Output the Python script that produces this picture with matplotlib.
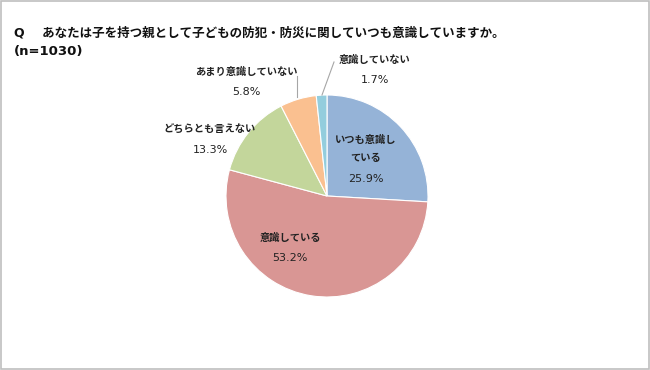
import matplotlib
matplotlib.use('Agg')
import matplotlib.pyplot as plt
from matplotlib.patches import Rectangle

plt.rcParams['font.family'] = ['Noto Sans CJK JP', 'DejaVu Sans']

title = 'Q    あなたは子を持つ親として子どもの防犯・防災に関していつも意識していますか。'
subtitle = '(n=1030)'
labels = ['いつも意識し\nている', '意識している', 'どちらとも言えない', 'あまり意識していない', '意識していない']
values = [25.9, 53.2, 13.3, 5.8, 1.7]
colors = ['#95B3D7', '#D99694', '#C3D69B', '#FAC090', '#93CDDD']

W, H = 650, 370
fig = plt.figure(figsize=(W / 100, H / 100), dpi=100)
ax = fig.add_axes([0, 0, 1, 1])

cx, cy, r = 327, H - 196, 101
wedges, _ = ax.pie(values, colors=colors, startangle=90, counterclock=False,
                   center=(cx, cy), radius=r,
                   wedgeprops=dict(edgecolor='white', linewidth=0.8))
ax.set_xlim(0, W)
ax.set_ylim(0, H)
ax.set_aspect('equal')
ax.axis('off')

# label positions in pixel space (x, y from top)
pos = [(366, 149), (290, 238), (210, 130), (246, 72), (375, 60)]
for (x, y), lab, v in zip(pos, labels, values):
    nl = lab.count('\n')
    ax.text(x, H - y, lab, ha='center', va='center', fontsize=7.4,
            fontweight='bold', color='#222222', linespacing=1.9)
    ax.text(x, H - y - 20 - nl * 10, f'{v}%', ha='center', va='center',
            fontsize=8, family=['DejaVu Sans'], fontweight='medium', color='#222222')

# leader lines
ax.plot([297, 297], [H - 97, H - 76], color='#A6A6A6', lw=0.8)
ax.plot([322, 334], [H - 95, H - 62], color='#A6A6A6', lw=0.8)

fig.text(14 / W, 1 - 33 / H, title, fontsize=9, fontweight='bold',
         va='center', ha='left', color='#111111',
         family=['DejaVu Sans', 'Noto Sans CJK JP'])
fig.text(14 / W, 1 - 52 / H, subtitle, fontsize=9.5, fontweight='bold',
         va='center', ha='left', color='#111111', family=['DejaVu Sans'])

fig.patches.append(Rectangle((0.001, 0.002), 0.997, 0.995, transform=fig.transFigure,
                             fill=False, edgecolor='#BFBFBF', lw=1.2))

fig.savefig('out.png', dpi=100)
